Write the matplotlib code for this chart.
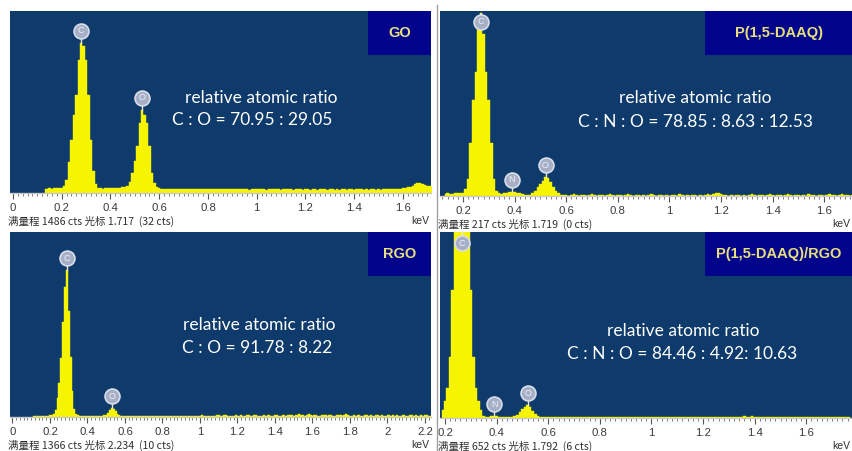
import numpy as np
import matplotlib
matplotlib.use('Agg')
import matplotlib.pyplot as plt
from matplotlib.ticker import MultipleLocator, FuncFormatter
from matplotlib.patches import Rectangle
from matplotlib.lines import Line2D

W, H = 852, 451
BIN = 0.01  # keV per channel

# ---------------- data (counts per 0.01 keV channel) ----------------
go_start = 0.13
go_counts = [30, 35, 38, 36, 40, 38, 42, 40,
             60, 110, 250, 435, 640, 800, 1090, 1225, 1200, 1090, 800, 435, 180, 70, 40,
             38, 36, 40, 42, 38, 40, 44, 40, 42, 45, 48,
             60, 90, 160, 260, 380, 570, 680, 640, 570, 380, 160, 80, 45,
             40, 36, 34, 36, 33, 35, 32, 34, 36, 33,
             31, 34, 33, 30, 32, 35, 31, 33, 30, 32,
             34, 31, 29, 33, 30, 32, 34, 30, 31, 29,
             32, 30, 33, 29, 31, 34, 30, 28, 31, 33,
             29, 31, 30, 33, 28, 30, 32, 29, 31, 30,
             28, 32, 30, 29, 31, 27, 30, 33, 29, 28,
             31, 29, 27, 30, 32, 28, 30, 29, 31, 27,
             29, 31, 28, 30, 27, 29, 32, 28, 30, 29,
             27, 30, 29, 31, 28, 30, 27, 29, 31, 28,
             30, 28, 31, 29, 33, 30, 32, 35, 33, 36,
             38, 42, 45, 52, 60, 70, 78, 80, 75, 68,
             60, 55, 50]

daaq_start = 0.13
daaq_counts = [2, 3, 2, 2, 3, 3, 4,
               4, 8, 20, 62, 113, 146, 200, 215, 190, 146, 113, 62, 20, 6, 3,
               2, 3, 4, 5, 5, 5, 4, 3, 2, 1, 1,
               1, 3, 6, 10, 14, 18, 22, 21, 16, 10, 6, 3, 1,
               1, 1, 0, 1, 2, 1, 0, 1, 1, 0,
               1, 2, 1, 0, 1, 1, 0, 1, 2, 1,
               0, 1, 1, 0, 1, 2, 1, 0, 1, 1,
               0, 1, 0, 1, 2, 1, 0, 1, 1, 0,
               1, 0, 1, 1, 0, 2, 1, 0, 1, 0,
               1, 1, 0, 1, 0, 1, 2, 1, 2, 3,
               3, 2, 1, 1, 0, 1, 0, 1, 1, 0,
               1, 0, 1, 2, 1, 0, 1, 1, 0, 1,
               2, 1, 0, 1, 1, 0, 1, 2, 1, 0,
               1, 1, 0, 1, 0, 2, 1, 1, 0, 1,
               1, 0, 1, 2, 1, 1, 0, 1, 2, 1,
               1, 0, 1]

rgo_start = 0.11
rgo_counts = [6, 8, 10, 9, 8, 10, 9, 11, 10, 12, 14,
              20, 55, 140, 250, 435, 700, 960, 1085, 780, 440, 190, 60, 20,
              12, 10, 9, 11, 10, 8, 9, 10, 11, 9, 8, 10, 9, 10, 12,
              18, 30, 48, 66, 60, 42, 22, 12,
              9, 8, 10, 7, 9, 8, 10, 9, 7, 8,
              9, 10, 8, 7, 9, 8, 10, 9, 8, 7,
              8, 9, 7, 10, 8, 9, 8, 7, 9, 10,
              8, 7, 9, 8, 10, 7, 8, 9, 8, 7,
              9, 8, 10, 12, 9, 8, 7, 9, 11, 8,
              10, 14, 18, 9, 8, 12, 16, 10, 8, 9,
              11, 15, 9, 8, 13, 10, 9, 14, 18, 10,
              9, 12, 16, 10, 8, 11, 14, 9, 12, 17,
              10, 9, 13, 16, 11, 9, 12, 15, 10, 14,
              18, 12, 9, 13, 17, 22, 16, 12, 10, 14,
              19, 13, 10, 12, 16, 11, 9, 13, 17, 12,
              10, 14, 18, 11, 9, 12, 16, 13, 10, 15,
              19, 12, 9, 11, 15, 10, 13, 17, 11, 9,
              12, 16, 10, 13, 9, 11, 15, 12, 10, 14,
              11, 9, 13, 16, 10, 12, 9, 14, 11, 10,
              13, 17, 11, 9, 12, 15, 10, 13, 9, 11,
              14, 10, 12, 16, 11, 9]

comp_start = 0.19
comp_counts = [28, 60, 105, 214, 450, 720, 820, 900, 880, 800, 700, 450, 214, 105, 60, 28,
               8, 4, 5, 6, 6, 6, 5, 3, 2, 2, 3,
               4, 6, 12, 21, 30, 40, 45, 40, 25, 15, 7, 4,
               3, 2, 3, 4, 2, 3, 5, 3, 2, 4,
               3, 5, 2, 3, 4, 3, 2, 5, 3, 4,
               2, 3, 4, 3, 5, 2, 3, 4, 2, 3,
               4, 3, 2, 5, 3, 4, 2, 3, 4, 3,
               2, 4, 3, 5, 3, 2, 4, 3, 5, 2,
               3, 4, 2, 3, 5, 4, 3, 2, 4, 3,
               5, 3, 2, 4, 3, 5, 2, 3, 4, 2,
               3, 5, 4, 2, 3, 4, 3, 5, 6, 4,
               5, 6, 4, 3, 5, 4, 3, 2, 4, 3,
               2, 4, 3, 5, 3, 2, 4, 3, 4, 2,
               3, 4, 2, 5, 3, 4, 2, 3, 5, 3,
               2, 4, 3, 3, 5, 2, 4, 3, 2, 3]

sample_names = ['GO', 'P(1,5-DAAQ)', 'RGO', 'P(1,5-DAAQ)/RGO']
full_scale = [1486, 217, 1366, 652]
cursor_keV = ['1.717', '1.719', '2.234', '1.792']
cursor_cts = [32, 0, 10, 6]
ratio_text = ['C : O = 70.95 : 29.05',
              'C : N : O = 78.85 : 8.63 : 12.53',
              'C : O = 91.78 : 8.22',
              'C : N : O = 84.46 : 4.92: 10.63']
peak_labels = [[('C', 0.28), ('O', 0.53)],
               [('C', 0.27), ('N', 0.39), ('O', 0.52)],
               [('C', 0.29), ('O', 0.53)],
               [('C', 0.265), ('N', 0.39), ('O', 0.52)]]
starts = [go_start, daaq_start, rgo_start, comp_start]
spectra = [go_counts, daaq_counts, rgo_counts, comp_counts]

# ---------------- layout (pixels) ----------------
BG = '#0e3a6c'
BOX = '#02058c'
YEL = '#f7f400'
panel_px = [(10, 11, 431, 193), (440, 11, 852, 196),
            (10, 232, 431, 417), (440, 232, 852, 418)]
xlims = [(-0.0123, 1.715), (0.1109, 1.708), (-0.013, 2.232), (0.1806, 1.777)]
box_w = [63, 147, 63, 147]
ratio_pos = [((261, 98), (252, 120)), ((695, 98), (695, 122)),
             ((259, 325), (257, 348)), ((683, 331), (682, 354))]

fig = plt.figure(figsize=(W / 100, H / 100), dpi=100)
fig.patch.set_facecolor('white')

def fx(x):
    return x / W

def fy(y):
    return 1 - y / H

def fmt(v, pos):
    s = ('%.1f' % v)
    if s.endswith('.0'):
        s = s[:-2]
    return s

for i in range(4):
    x0, y0, x1, y1 = panel_px[i]
    ax = fig.add_axes([fx(x0), fy(y1), (x1 - x0) / W, (y1 - y0) / H])
    ax.set_facecolor(BG)
    e = starts[i] + BIN * np.arange(len(spectra[i]))
    c = np.array(spectra[i], dtype=float)
    ax.fill_between(e, c, step='mid', color=YEL, lw=0.3, edgecolor=YEL, zorder=2)
    ax.set_xlim(*xlims[i])
    ax.set_ylim(0, full_scale[i])
    for s in ['top', 'left', 'right']:
        ax.spines[s].set_visible(False)
    ax.spines['bottom'].set_color('#c8c8c8')
    ax.spines['bottom'].set_linewidth(1.0)
    ax.set_yticks([])
    ax.xaxis.set_major_locator(MultipleLocator(0.2))
    ax.xaxis.set_minor_locator(MultipleLocator(0.02))
    ax.xaxis.set_major_formatter(FuncFormatter(fmt))
    ax.tick_params(axis='x', which='major', length=4, width=0.8, color='#555555',
                   labelsize=8.2, labelcolor='#3a3a3a', pad=3.5, direction='out')
    ax.tick_params(axis='x', which='minor', length=2.5, width=0.6, color='#666666',
                   direction='out')
    for lab in ax.get_xticklabels():
        lab.set_family(['Liberation Sans', 'DejaVu Sans'])

    # peak markers
    hpx = y1 - y0
    cpp = full_scale[i] / hpx
    for el, en in peak_labels[i]:
        sel = np.abs(e - en) <= 0.025
        pk = min(c[sel].max(), full_scale[i])
        my = min(pk + 12 * cpp, full_scale[i] - 11 * cpp)
        ax.plot([en, en], [pk, my], color='#e8e8d0', lw=1.0, zorder=3, clip_on=False)
        ax.scatter([en], [my], s=115, color='#a7afc6', edgecolors='#d8dde8',
                   linewidths=1.2, zorder=4, clip_on=False)
        ax.text(en, my, el, color='#eef0f6', fontsize=6.5, ha='center', va='center',
                zorder=5, family=['Liberation Sans', 'DejaVu Sans'])

    # sample label box
    bw = box_w[i]
    ax.add_patch(Rectangle((1 - bw / (x1 - x0), 1 - 44 / hpx), bw / (x1 - x0), 44 / hpx,
                           transform=ax.transAxes, color=BOX, lw=0, zorder=6))
    fig.text(fx(x1 - bw / 2), fy(y0 + 22), sample_names[i], color='#e8df7c',
             fontsize=10.5, fontweight='bold', ha='center', va='center',
             family=['Liberation Sans', 'DejaVu Sans'])

    # ratio text
    (ax1, ay1), (ax2, ay2) = ratio_pos[i]
    fig.text(fx(ax1), fy(ay1), 'relative atomic ratio', color='white', fontsize=12.5,
             ha='center', va='center', family=['Lato', 'DejaVu Sans'])
    fig.text(fx(ax2), fy(ay2), ratio_text[i], color='white', fontsize=12.5,
             ha='center', va='center', family=['Lato', 'DejaVu Sans'])

    # status line
    fig.text(fx(x0 - 2), fy(y1 + 28),
             '满量程 %d cts 光标 %s  (%d cts)' % (full_scale[i], cursor_keV[i], cursor_cts[i]),
             color='#303030', fontsize=7.6, ha='left', va='center',
             family=['Noto Sans CJK SC', 'DejaVu Sans'])
    fig.text(fx(x1 - 2), fy(y1 + 28), 'keV', color='#303030', fontsize=7.5,
             ha='right', va='center', family=['Liberation Sans', 'DejaVu Sans'])

# thin separator between the columns
fig.add_artist(Line2D([fx(437), fx(437)], [0, fy(5)], color='#a0a0a0', lw=1.0))

fig.savefig('out.png', dpi=100, facecolor='white')
